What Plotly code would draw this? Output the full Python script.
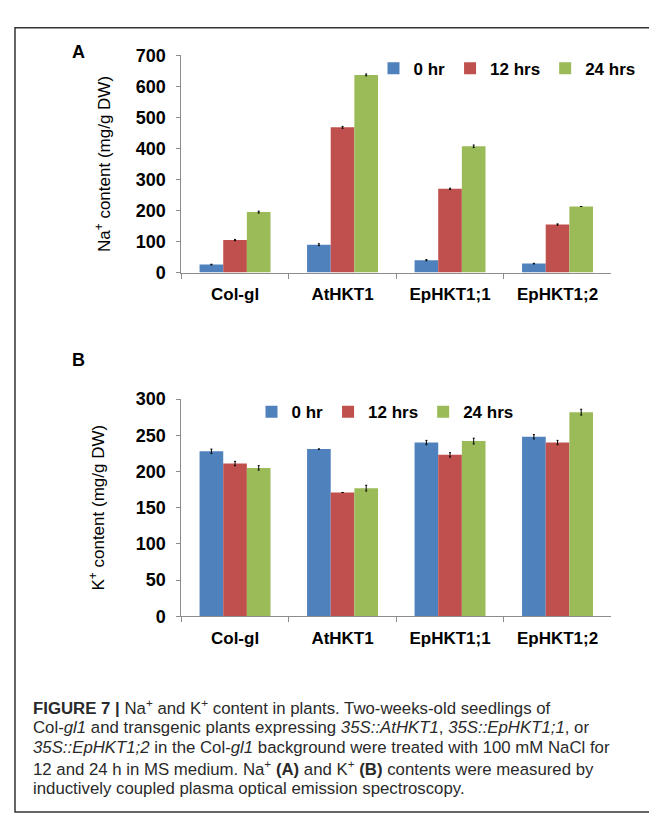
import plotly.graph_objects as go

W, H = 657, 816

categories = ["Col-gl", "AtHKT1", "EpHKT1;1", "EpHKT1;2"]
series_names = ["0 hr", "12 hrs", "24 hrs"]
colors = ["#4F81BD", "#C0504D", "#9BBB59"]

# Panel A: Na+ content (mg/g DW)
na_0hr = [26, 90, 40, 29]
na_12hrs = [105, 468, 270, 155]
na_24hrs = [195, 637, 407, 213]
na_err_0hr = [1, 3, 2, 1]
na_err_12hrs = [2, 3, 2, 2]
na_err_24hrs = [3, 3, 4, 0]

# Panel B: K+ content (mg/g DW)
k_0hr = [228, 231, 240, 248]
k_12hrs = [211, 171, 223, 240]
k_24hrs = [205, 177, 242, 282]
k_err_0hr = [3, 0, 3, 3]
k_err_12hrs = [3, 0, 3, 3]
k_err_24hrs = [3, 4, 4, 4]

na_vals = [na_0hr, na_12hrs, na_24hrs]
na_errs = [na_err_0hr, na_err_12hrs, na_err_24hrs]
k_vals = [k_0hr, k_12hrs, k_24hrs]
k_errs = [k_err_0hr, k_err_12hrs, k_err_24hrs]

FONT = "Liberation Sans, Arial, sans-serif"


def px_x(p):
    return p / W


def px_y(p):
    return 1 - p / H


fig = go.Figure()

for i, name in enumerate(series_names):
    fig.add_trace(go.Bar(
        x=categories, y=na_vals[i], name=name,
        marker=dict(color=colors[i], line=dict(width=0)),
        error_y=dict(type="data", array=na_errs[i], color="black", thickness=1, width=1),
        xaxis="x", yaxis="y", legend="legend",
    ))
for i, name in enumerate(series_names):
    fig.add_trace(go.Bar(
        x=categories, y=k_vals[i], name=name,
        marker=dict(color=colors[i], line=dict(width=0)),
        error_y=dict(type="data", array=k_errs[i], color="black", thickness=1, width=1),
        xaxis="x2", yaxis="y2", legend="legend2",
    ))

axis_line = "#8c8c8c"

common_x = dict(
    showline=True, linecolor=axis_line, linewidth=1,
    ticks="outside", tickson="boundaries", ticklen=5, tickcolor=axis_line,
    tickfont=dict(family=FONT, size=17, color="black", weight="bold"),
    showgrid=False, ticklabelstandoff=6, fixedrange=True,
)
common_y = dict(
    showline=True, linecolor=axis_line, linewidth=1,
    ticks="outside", ticklen=4, tickcolor=axis_line,
    tickfont=dict(family=FONT, size=18, color="black", weight="bold"),
    showgrid=False, zeroline=False, ticklabelstandoff=7,
)

x_dom = [px_x(173.3), px_x(603.3)]
legend_font = dict(family=FONT, size=17, color="black", weight="bold")

fig.update_layout(
    width=W, height=H,
    margin=dict(l=0, r=0, t=0, b=0),
    paper_bgcolor="white", plot_bgcolor="white",
    barmode="group", bargap=0.34, bargroupgap=0,
    xaxis=dict(domain=x_dom, anchor="y", **common_x),
    yaxis=dict(domain=[px_y(261), px_y(38.3)], anchor="x", range=[0, 700], dtick=100,
               title=dict(text="Na<sup>+</sup> content (mg/g DW)",
                          font=dict(family=FONT, size=17, color="black"), standoff=20),
               **common_y),
    xaxis2=dict(domain=x_dom, anchor="y2", **common_x),
    yaxis2=dict(domain=[px_y(613.3), px_y(390.7)], anchor="x2", range=[0, 300], dtick=50,
                title=dict(text="K<sup>+</sup> content (mg/g DW)",
                           font=dict(family=FONT, size=17, color="black"), standoff=26),
                **common_y),
    legend=dict(orientation="h", x=px_x(499), xanchor="center", y=px_y(52), yanchor="middle",
                font=legend_font, bgcolor="rgba(0,0,0,0)", itemwidth=30, tracegroupgap=0),
    legend2=dict(orientation="h", x=px_x(377), xanchor="center", y=px_y(404), yanchor="middle",
                 font=legend_font, bgcolor="rgba(0,0,0,0)", itemwidth=30, tracegroupgap=0),
    showlegend=True,
)

# Panel letters
for letter, yy in [("A", 35), ("B", 351)]:
    fig.add_annotation(text=letter, x=px_x(70), y=px_y(yy), xref="paper", yref="paper",
                       xanchor="center", yanchor="middle", showarrow=False,
                       font=dict(family=FONT, size=18, color="black", weight="bold"))

caption_lines = [
    "<b>FIGURE 7 |</b> Na<sup>+</sup> and K<sup>+</sup> content in plants. Two-weeks-old seedlings of",
    "Col-<i>gl1</i> and transgenic plants expressing <i>35S::AtHKT1</i>, <i>35S::EpHKT1;1</i>, or",
    "<i>35S::EpHKT1;2</i> in the Col-<i>gl1</i> background were treated with 100 mM NaCl for",
    "12 and 24 h in MS medium. Na<sup>+</sup> <b>(A)</b> and K<sup>+</sup> <b>(B)</b> contents were measured by",
    "inductively coupled plasma optical emission spectroscopy.",
]
cap_y0 = 706
cap_dy = 21
for i, line in enumerate(caption_lines):
    fig.add_annotation(text=line, x=px_x(23), y=px_y(cap_y0 + i * cap_dy), xref="paper", yref="paper",
                       xanchor="left", yanchor="middle", showarrow=False, align="left",
                       font=dict(family=FONT, size=16.8, color="#2a2a2a"))

# Figure frame
fig.add_shape(type="rect", xref="paper", yref="paper",
              x0=px_x(7), x1=px_x(656), y0=px_y(814), y1=px_y(10),
              line=dict(color="#333333", width=1.5), fillcolor="rgba(0,0,0,0)", layer="below")

fig.write_html("out.html")
